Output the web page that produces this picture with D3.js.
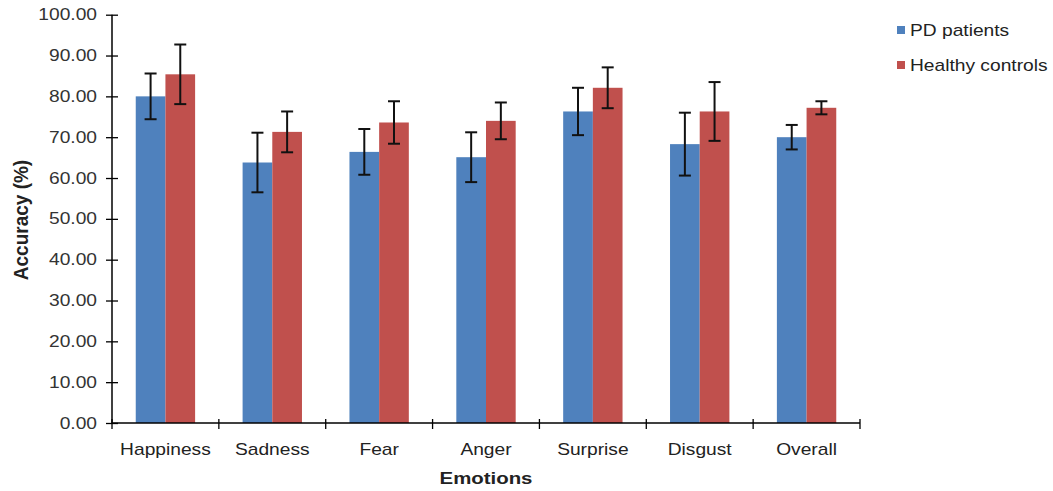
<!DOCTYPE html>
<html>
<head>
<meta charset="utf-8">
<script src="https://cdn.jsdelivr.net/npm/d3@7"></script>
<style>
  html, body { margin: 0; padding: 0; background: #fff; }
  svg { display: block; font-family: Arial, "Liberation Sans", sans-serif; }
</style>
</head>
<body>
<svg id="chart" width="1053" height="491"></svg>
<script>
const categories = ["Happiness", "Sadness", "Fear", "Anger", "Surprise", "Disgust", "Overall"];
const seriesNames = ["PD patients", "Healthy controls"];
const pdValues = [80.0, 63.8, 66.4, 65.1, 76.3, 68.3, 70.0];
const pdErrors = [5.6, 7.3, 5.6, 6.1, 5.8, 7.7, 3.0];
const hcValues = [85.4, 71.3, 73.6, 74.0, 82.1, 76.3, 77.2];
const hcErrors = [7.3, 5.0, 5.2, 4.5, 5.0, 7.2, 1.6];
const yTicks = [0, 10, 20, 30, 40, 50, 60, 70, 80, 90, 100];
const colors = ["#4F81BD", "#C0504D"];

(function () {
const SX = 1.2; // horizontal stretch of the reference's text

const svg = d3.select("#chart");
const mLeft = 112, mRight = 860, mTop = 14.7, mBottom = 423;

const x = d3.scaleBand().domain(categories).range([mLeft, mRight]).padding(0);
const xs = d3.scaleBand().domain(seriesNames).range([0, x.bandwidth()]).paddingInner(0).paddingOuter(0.8);
const y = d3.scaleLinear().domain([0, 100]).range([mBottom, mTop]);

const series = [
  {name: seriesNames[0], values: pdValues, errors: pdErrors, color: colors[0]},
  {name: seriesNames[1], values: hcValues, errors: hcErrors, color: colors[1]}
];

// bars
series.forEach(s => {
  svg.append("g").selectAll("rect")
    .data(categories.map((c, i) => ({c, v: s.values[i], e: s.errors[i]})))
    .join("rect")
    .attr("x", d => x(d.c) + xs(s.name))
    .attr("y", d => y(d.v))
    .attr("width", xs.bandwidth())
    .attr("height", d => y(0) - y(d.v))
    .attr("fill", s.color);
});

// error bars
series.forEach(s => {
  const g = svg.append("g").attr("stroke", "#111").attr("stroke-width", 2);
  categories.forEach((c, i) => {
    const cx = x(c) + xs(s.name) + xs.bandwidth() / 2;
    const hi = y(s.values[i] + s.errors[i]);
    const lo = y(s.values[i] - s.errors[i]);
    g.append("line").attr("x1", cx).attr("x2", cx).attr("y1", hi).attr("y2", lo);
    g.append("line").attr("x1", cx - 6).attr("x2", cx + 6).attr("y1", hi).attr("y2", hi);
    g.append("line").attr("x1", cx - 6).attr("x2", cx + 6).attr("y1", lo).attr("y2", lo);
  });
});

// y axis
const yAxis = svg.append("g")
  .attr("transform", `translate(${mLeft},0)`)
  .call(d3.axisLeft(y).tickValues(yTicks).tickFormat(d3.format(".2f")).tickSize(6).tickPadding(0));
yAxis.select(".domain").attr("stroke", "#000").attr("stroke-width", 1.5).attr("d", `M0,${mBottom}V${mTop}`);
yAxis.selectAll(".tick line").attr("x1", -6).attr("x2", 6).attr("stroke", "#000").attr("stroke-width", 1.3);
yAxis.selectAll(".tick text")
  .attr("x", -15 / SX)
  .attr("transform", `scale(${SX},1)`)
  .attr("font-size", 16)
  .attr("fill", "#333")
  .attr("font-family", "Arial, 'Liberation Sans', sans-serif");

// x axis
const xAxis = svg.append("g")
  .attr("transform", `translate(0,${mBottom})`)
  .call(d3.axisBottom(x).tickSize(0).tickPadding(0));
xAxis.select(".domain").attr("stroke", "#000").attr("stroke-width", 1.5).attr("d", `M${mLeft},0H${mRight}`);
xAxis.selectAll(".tick text")
  .attr("y", 26)
  .attr("dy", "0.35em")
  .attr("transform", `scale(${SX},1)`)
  .attr("font-size", 16)
  .attr("fill", "#222")
  .attr("font-family", "Arial, 'Liberation Sans', sans-serif");
// boundary ticks between categories (crossing style)
const bounds = categories.map(c => x(c)).concat([x.range()[1]]);
svg.append("g").selectAll("line").data(bounds).join("line")
  .attr("x1", d => d).attr("x2", d => d)
  .attr("y1", mBottom - 4).attr("y2", mBottom + 6)
  .attr("stroke", "#000").attr("stroke-width", 1.3);

// axis titles
svg.append("text")
  .attr("transform", `translate(${(mLeft + mRight) / 2},478) scale(${SX},1)`)
  .attr("text-anchor", "middle")
  .attr("dy", "0.35em")
  .attr("font-size", 17)
  .attr("font-weight", "bold")
  .attr("fill", "#222")
  .text("Emotions");

svg.append("text")
  .attr("transform", `translate(21,220) scale(1.1,1) rotate(-90)`)
  .attr("text-anchor", "middle")
  .attr("dy", "0.35em")
  .attr("font-size", 19)
  .attr("font-weight", "bold")
  .attr("fill", "#222")
  .text("Accuracy (%)");

// legend
const legend = svg.append("g").selectAll("g").data(series).join("g")
  .attr("transform", (d, i) => `translate(897,${30 + i * 35})`);
legend.append("rect").attr("x", 0).attr("y", -4).attr("width", 8).attr("height", 8).attr("fill", d => d.color);
legend.append("text")
  .attr("transform", `translate(13,0) scale(${SX},1)`)
  .attr("dy", "0.35em")
  .attr("font-size", 16)
  .attr("fill", "#222")
  .text(d => d.name);
})();
</script>
</body>
</html>
